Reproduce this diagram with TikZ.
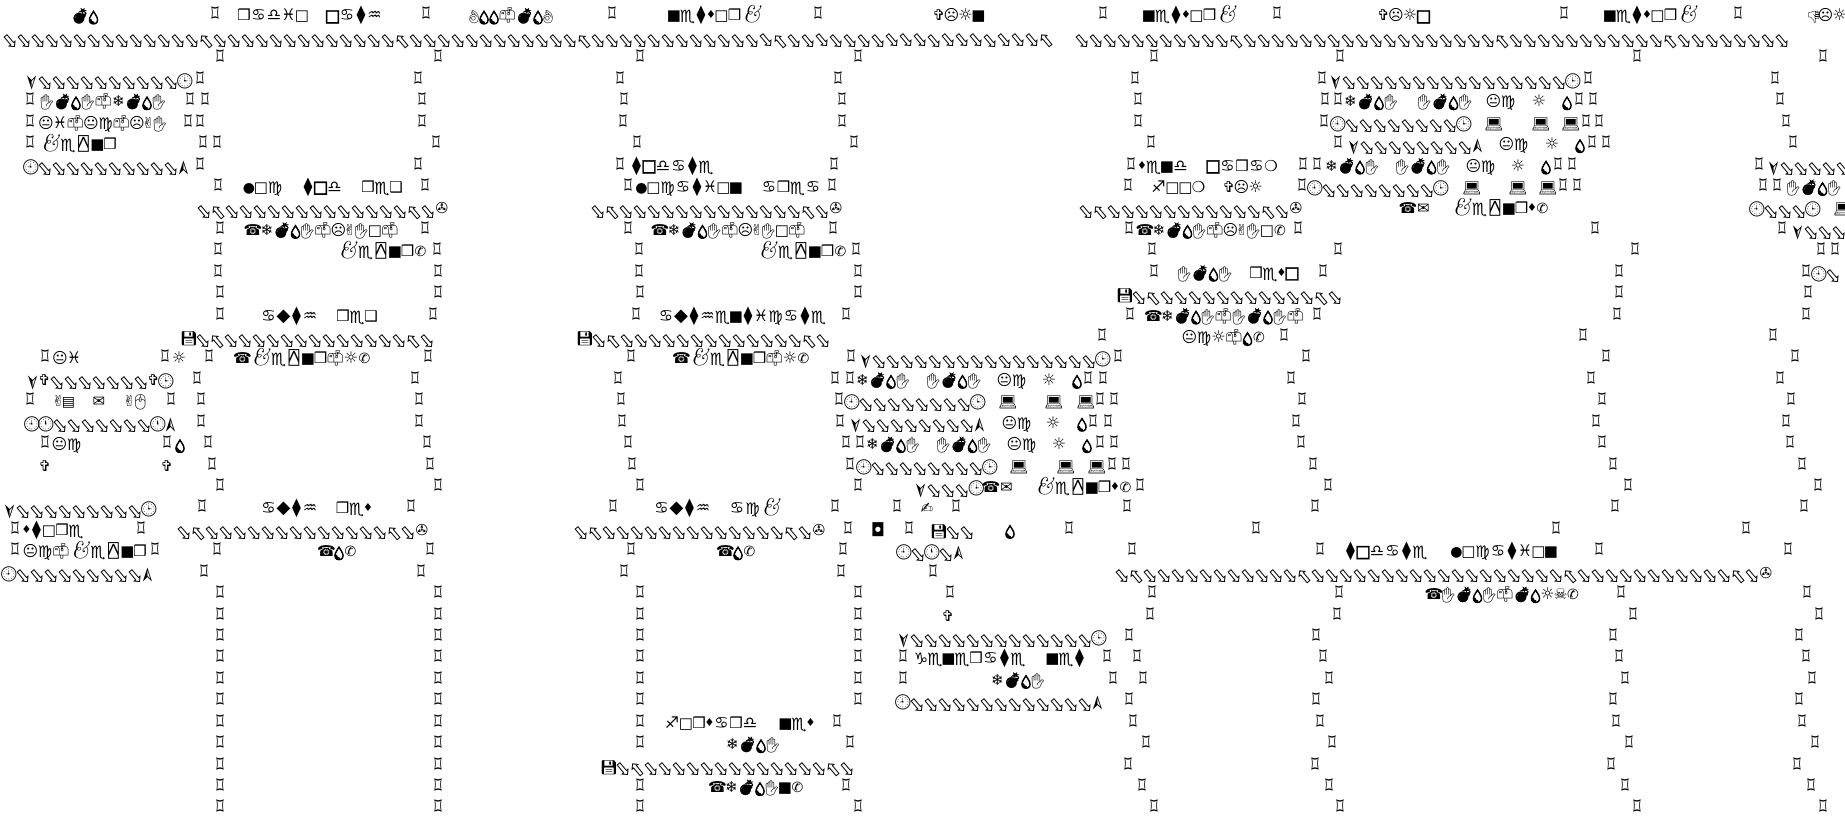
\documentclass[tikz,border=0pt]{standalone}
\usepackage{graphicx}
\usepackage{fontspec}
\usetikzlibrary{positioning}
\newfontfamily\dvf{DejaVu Sans}
\newfontfamily\dvmf{DejaVu Sans Mono}
\newfontfamily\dvbf[FakeBold=2]{DejaVu Sans}
\newfontfamily\emof{Noto Emoji}
\newfontfamily\emobf[FakeBold=2]{Noto Emoji}
\newfontfamily\emofill[FakeBold=7]{Noto Emoji}
% glyph table: char, family, size, advance, rise
\newcommand\wg[5]{\catcode`#1=\active
  \begingroup\lccode`~=`#1\lowercase{\endgroup\protected\def~}{%
    \makebox[#4pt]{\raisebox{#5pt}{\fontsize{#3}{#3}#2\selectfont\char`#1\relax}}}}
% same, turned round its centre: char, size, advance, rise, angle
\newcommand\wgrot[5]{\catcode`#1=\active
  \begingroup\lccode`~=`#1\lowercase{\endgroup\protected\def~}{%
    \makebox[#3pt]{\raisebox{#4pt}{\rotatebox[origin=c]{#5}{\fontsize{#2}{#2}\dvf\selectfont\char`#1\relax}}}}}
\wgrot{⇨}{20}{14}{-6}{-50}
\wgrot{⇦}{20}{14}{-6}{-50}
\wg{⌑}{\dvf}{25}{13}{-3}
\let\barsquare=⌑
\protected\def⌑{\makebox[13pt]{\raisebox{-3pt}{\scalebox{0.58}[1]{\fontsize{25}{25}\dvf\selectfont\char"2311\relax}}}}
\wgrot{➢}{21}{14}{-4}{-90}
\wgrot{➣}{21}{14}{-4}{90}
\wg{🕒}{\emof}{15}{14}{-2}
\wg{🕘}{\emof}{15}{14}{-2}
\wg{🕛}{\emof}{15}{14}{-2}
\wg{✇}{\dvf}{15}{14}{-1}
\wg{💾}{\emof}{14}{14}{-2}
\wg{◘}{\dvf}{18}{14}{-2}
\wg{💻}{\emof}{15}{16}{-2}
\wg{☎}{\dvf}{15}{15}{-1}
\wg{✉}{\dvf}{15}{16}{-1}
\wg{✆}{\dvf}{14}{13}{-1}
\wg{✌}{\dvf}{15}{9}{-1}
\wg{✋}{\emof}{15}{14}{-2}
\wg{✍}{\dvf}{15}{15}{-1}
\wg{❄}{\dvf}{15}{13}{-1}
\wg{☹}{\dvf}{15}{14}{-1}
\wg{😐}{\dvf}{15}{14}{-1}
\wg{☠}{\dvf}{15}{12}{-1}
\wg{☼}{\dvf}{16}{14}{-1}
\wg{✞}{\dvf}{15}{11}{-1}
\wg{💧}{\emofill}{13}{10}{-2}
\wg{💣}{\emobf}{15}{17}{-1}
\wg{📫}{\emof}{15}{17}{-1}
\wg{👌}{\emof}{13}{10}{-2}
\wg{👎}{\emof}{12}{9}{-2}
\wg{▤}{\dvf}{14}{11}{-1}
\wg{🖱}{\emof}{15}{13}{-2}
\wg{♋}{\dvf}{16}{16}{-1}
\wg{♍}{\dvf}{16}{15}{-2}
\wg{♎}{\dvf}{16}{15}{-1}
\wg{♏}{\dvf}{17}{15}{-3}
\wg{♐}{\dvf}{16}{15}{-1}
\wg{♑}{\dvf}{16}{13}{-2}
\wg{♒}{\dvf}{16}{15}{-1}
\wg{♓}{\dvf}{16}{14}{-1}
\wg{■}{\dvf}{15}{12}{-1}
\wg{□}{\dvf}{15}{13}{-1}
\wg{◻}{\dvbf}{20}{13}{-2}
\wg{❒}{\dvf}{15}{13}{-1}
\wg{❑}{\dvf}{15}{13}{-1}
\wg{●}{\dvf}{14}{11}{-1}
\wg{❍}{\dvf}{15}{13}{-1}
\wg{⧫}{\dvf}{18}{12}{-1}
\wg{◆}{\dvf}{18}{14}{-1}
\wg{♦}{\dvf}{11}{8}{1}
\wg{⍓}{\dvmf}{18}{16}{-2}
\newcommand\amp{\makebox[21pt]{\raisebox{-3pt}{\fontsize{24}{24}\selectfont\itshape\&}}}
\newcommand\rn[1]{\foreach \rni in {1,...,#1}{⇨}}
\tikzset{
  chunk/.style={inner sep=0pt, outer sep=0pt, anchor=base, text=black},
  barline/.style={inner sep=0pt, outer sep=0pt, anchor=base, text=black}
}
\begin{document}
\begin{tikzpicture}[x=1pt,y=-21.43pt]
\useasboundingbox (0,-0.933) rectangle (1845,37.333);
% side bars, one pair of numbers per bar
\foreach \cl/\xs in {0/{215,426,612,818,1103,1277,1564,1738},
  2/{220,438,640,858,1154,1340,1637,1823},
  3/{200,418,620,838,1135,1322,1588,1775},
  4/{30,190,205,422,624,842,1138,1325,1338,1579,1593,1780},
  5/{30,188,200,422,623,842,1138,1324,1586,1599,1786},
  6/{30,203,217,436,637,854,1151,1338,1592,1606,1793},
  7/{200,418,620,834,1131,1303,1317,1558,1572,1759},
  8/{218,425,628,832,1128,1302,1563,1577,1763,1777},
  10/{220,425,628,833,1129,1298,1595,1782},
  11/{218,437,639,856,1152,1338,1635,1821,1835},
  12/{218,438,639,858,1154,1323,1619,1806},
  13/{220,438,640,858,1619,1808},
  14/{220,433,636,846,1130,1317,1617,1806},
  15/{1102,1284,1583,1773},
  16/{45,165,209,428,631,851,1118,1306,1606,1795},
  17/{197,415,618,835,850,1088,1103,1291,1591,1780},
  18/{30,171,201,419,621,839,1100,1114,1302,1602,1791},
  19/{201,419,622,840,1093,1108,1296,1596,1786},
  20/{45,167,208,427,628,846,860,1100,1114,1301,1602,1790},
  21/{212,430,632,850,1112,1126,1313,1613,1802},
  22/{220,438,640,858,1140,1328,1628,1818},
  23/{202,411,613,835,897,956,1127,1315,1615,1804},
  24/{15,141,848,909,1069,1256,1556,1746},
  25/{15,155,217,430,631,843,1132,1320,1599,1788},
  26/{204,421,624,841,933},
  27/{220,438,640,858,950,1152,1339,1621,1807},
  28/{220,438,640,858,1150,1337,1633,1819},
  29/{220,438,640,858,1129,1316,1613,1799},
  30/{220,438,640,858,903,1107,1137,1323,1619,1806},
  31/{220,438,640,858,903,1113,1143,1329,1625,1812},
  32/{220,438,640,858,1129,1316,1613,1799},
  33/{220,438,640,837,1133,1320,1616,1802},
  34/{220,438,640,850,1146,1332,1629,1815},
  35/{220,438,1128,1315,1611,1797},
  36/{220,438,640,846,1142,1329,1625,1811},
  37/{220,438,640,858,1154,1340,1637,1823}}
  \foreach \cx in \xs
    \node[barline] (bar\cl-\cx) at (\cx,\cl) {⌑};
% box rules and labels
\foreach \cx/\cl/\ct in {
  85/0/💣💧, 273/0/❒♋♎♓□, 354/0/◻♋⧫♒, 511/0/👌💧💧📫💣💧👌, 715/0/■♏⧫♦□❒\amp,
  959/0/✞☹☼■, 1190/0/■♏⧫♦□❒\amp, 1404/0/✞☹☼◻, 1651/0/■♏⧫♦□❒\amp, 1828/0/👎☹☼,
  528/1/\rn{14}⇦\rn{13}⇦\rn{12}⇦\rn{13}⇦\rn{18}⇦,
  1432/1/\rn{11}⇦\rn{18}⇦\rn{11}⇦\rn{8},
  108/3/➢\rn{10}🕒, 1454/3/➢\rn{16}🕒,
  103/4/✋💣💧✋📫❄💣💧✋, 1371/4/❄💣💧✋, 1445/4/✋💣💧✋, 1501/4/😐♍, 1539/4/☼, 1567/4/💧,
  103/5/😐♓📫😐♍📫☹✌✋, 1401/5/🕘\rn{8}🕒, 1494/5/💻, 1541/5/💻, 1571/5/💻,
  78/6/\amp♏⍓■❒, 1416/6/➢\rn{8}➣, 1514/6/😐♍, 1552/6/☼, 1580/6/💧,
  108/7/🕘\rn{10}➣, 672/7/⧫◻♎♋⧫♏, 1163/7/♦♏■♎, 1242/7/◻♋❒♋❍,
  1352/7/❄💣💧✋, 1423/7/✋💣💧✋, 1481/7/😐♍, 1518/7/☼, 1546/7/💧, 1808/7/➢\rn{5},
  263/8/●□♍, 322/8/⧫◻♎, 382/8/❒♏❑, 689/8/●□♍♋⧫♓□■, 791/8/♋❒♏♋,
  1178/8/♐□□❍, 1243/8/✞☹☼, 1378/8/🕘\rn{8}🕒, 1472/8/💻, 1518/8/💻, 1548/8/💻, 1814/8/✋💣💧✋,
  323/9/⇨⇦\rn{13}⇦⇨✇, 717/9/⇨⇦\rn{13}⇦⇨✇, 1191/9/⇨⇦\rn{11}⇦⇨✇,
  1416/9/☎✉, 1500/9/\amp♏⍓■❒♦✆, 1785/9/🕘\rn{3}🕒, 1843/9/💻,
  322/10/☎❄💣💧✋📫☹✌✋□📫, 729/10/☎❄💣💧✋📫☹✌✋□📫, 1212/10/☎❄💣💧✋📫☹✌✋□✆, 1818/10/➢\rn{3},
  382/11/\amp♏⍓■❒✆, 802/11/\amp♏⍓■❒✆,
  1205/12/✋💣💧✋, 1274/12/❒♏♦◻, 1826/12/🕘⇨,
  1230/13/💾⇨⇦\rn{11}⇦⇨,
  289/14/♋◆⧫♒, 357/14/❒♏❑, 742/14/♋◆⧫♒♏■⧫♓♍♋⧫♏, 1225/14/☎❄💣💧✋📫✋💣💧✋📫,
  308/15/💾⇨⇦\rn{13}⇦⇨, 704/15/💾⇨⇦\rn{13}⇦⇨, 1224/15/😐♍☼📫💧✆,
  67/16/😐♓, 179/16/☼, 303/16/☎\amp♏⍓■❒📫☼✆, 742/16/☎\amp♏⍓■❒📫☼✆, 984/16/➢\rn{16}🕒,
  99/17/➢✞\rn{7}✞🕒, 883/17/❄💣💧✋, 954/17/✋💣💧✋, 1012/17/😐♍, 1049/17/☼, 1077/17/💧,
  64/18/✌▤, 99/18/✉, 136/18/✌🖱, 915/18/🕘\rn{8}🕒, 1008/18/💻, 1054/18/💻, 1086/18/💻,
  102/19/🕘🕛\rn{7}🕛➣, 918/19/➢\rn{8}➣, 1017/19/😐♍, 1053/19/☼, 1082/19/💧,
  67/20/😐♍, 180/20/💧, 893/20/❄💣💧✋, 964/20/✋💣💧✋, 1022/20/😐♍, 1059/20/☼, 1087/20/💧,
  45/21/✞, 167/21/✞, 927/21/🕘\rn{8}🕒, 1019/21/💻, 1066/21/💻, 1097/21/💻,
  964/22/➢\rn{3}🕒☎✉, 1083/22/\amp♏⍓■❒♦✆,
  79/23/➢\rn{9}🕒, 289/23/♋◆⧫♒, 354/23/❒♏♦, 682/23/♋◆⧫♒, 755/23/♋♍\amp, 927/23/✍,
  53/24/♦⧫□❒♏, 303/24/⇨⇦\rn{13}⇦⇨✇, 700/24/⇨⇦\rn{13}⇦⇨✇, 878/24/◘, 953/24/💾⇨⇨, 1010/24/💧,
  85/25/😐♍📫\amp♏⍓■❒, 338/25/☎💧✆, 737/25/☎💧✆, 932/25/🕘⇨🕛⇨➣,
  1386/25/⧫◻♎♋⧫♏, 1504/25/●□♍♋⧫♓□■,
  79/26/🕘\rn{9}➣, 1444/26/⇨⇦\rn{11}⇦\rn{18}⇦\rn{11}⇦⇨✇,
  1503/27/☎✋💣💧✋📫💣💧☼☠✆,
  948/28/✞,
  1001/29/➢\rn{13}🕒,
  970/30/♑♏■♏❒♋⧫♏, 1066/30/■♏⧫,
  1018/31/❄💣💧✋,
  1001/32/🕘\rn{13}➣,
  711/33/♐□❒♦♋❒♎, 797/33/■♏♦,
  753/34/❄💣💧✋,
  728/35/💾⇨⇦\rn{13}⇦⇨,
  757/36/☎❄💣💧✋■✆}
  \node[chunk] (t\cl-\cx) at (\cx,\cl) {\ct};
\end{tikzpicture}
\end{document}
